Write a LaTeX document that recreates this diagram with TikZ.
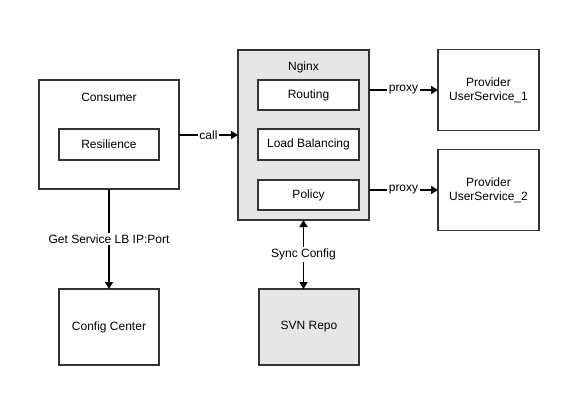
\documentclass[tikz,border=0pt]{standalone}
\usepackage{fontspec}
\setmainfont{Liberation Sans}
\usetikzlibrary{arrows.meta}
\definecolor{boxline}{HTML}{333333}
\definecolor{grayfill}{HTML}{E6E6E6}
\begin{document}
\begin{tikzpicture}[x=1pt,y=-1pt,
  every node/.style={font=\fontsize{12}{14}\selectfont, inner sep=0pt, outer sep=0pt},
  box/.style={draw=boxline, line width=1.6pt, fill=white, minimum width=#1},
  box/.default=100pt,
  conn/.style={line width=1.6pt, draw=black, -{Triangle[length=7pt,width=8pt]}},
  biconn/.style={line width=1.6pt, draw=black, {Triangle[length=7pt,width=8pt]}-{Triangle[length=7pt,width=8pt]}},
  lbl/.style={fill=white, inner sep=1.5pt}]
\useasboundingbox (0,0) rectangle (582,404);
\fill[white] (0,0) rectangle (582,404);
% Consumer
\node[box=140pt, minimum height=109pt] (consumer) at (109,134.5) {};
\node (consumertxt) at (109,97) {Consumer};
\node[box=100pt, minimum height=31pt] (resil) at (109,144.5) {Resilience};
% Nginx
\node[box=131pt, minimum height=170pt, fill=grayfill] (nginx) at (303.5,135) {};
\node (nginxtxt) at (303.5,67) {Nginx};
\node[box=101pt, minimum height=30pt] (routing) at (308.5,95) {Routing};
\node[box=101pt, minimum height=31pt] (lb) at (308.5,144.5) {Load Balancing};
\node[box=101pt, minimum height=30pt] (policy) at (308.5,195) {Policy};
% Providers
\node[box=101pt, minimum height=81pt, align=center] (p1) at (488.5,90) {Provider\\UserService\_1};
\node[box=101pt, minimum height=81pt, align=center] (p2) at (488.5,190) {Provider\\UserService\_2};
% Bottom
\node[box=100pt, minimum height=76pt] (cc) at (109,327) {Config Center};
\node[box=100pt, minimum height=76pt, fill=grayfill] (svn) at (309,327) {SVN Repo};
% connectors
\draw[conn] (consumer.east |- 0,135) -- node[lbl] {call} (nginx.west |- 0,135);
\draw[conn] (nginx.east |- p1) -- node[lbl] {proxy} (p1.west);
\draw[conn] (nginx.east |- p2) -- node[lbl] {proxy} (p2.west);
\draw[conn] (consumer.south) -- node[lbl] {Get Service LB IP:Port} (cc.north);
\draw[biconn] (nginx.south) -- node[lbl] {Sync Config} (nginx.south |- svn.north);
\end{tikzpicture}
\end{document}
